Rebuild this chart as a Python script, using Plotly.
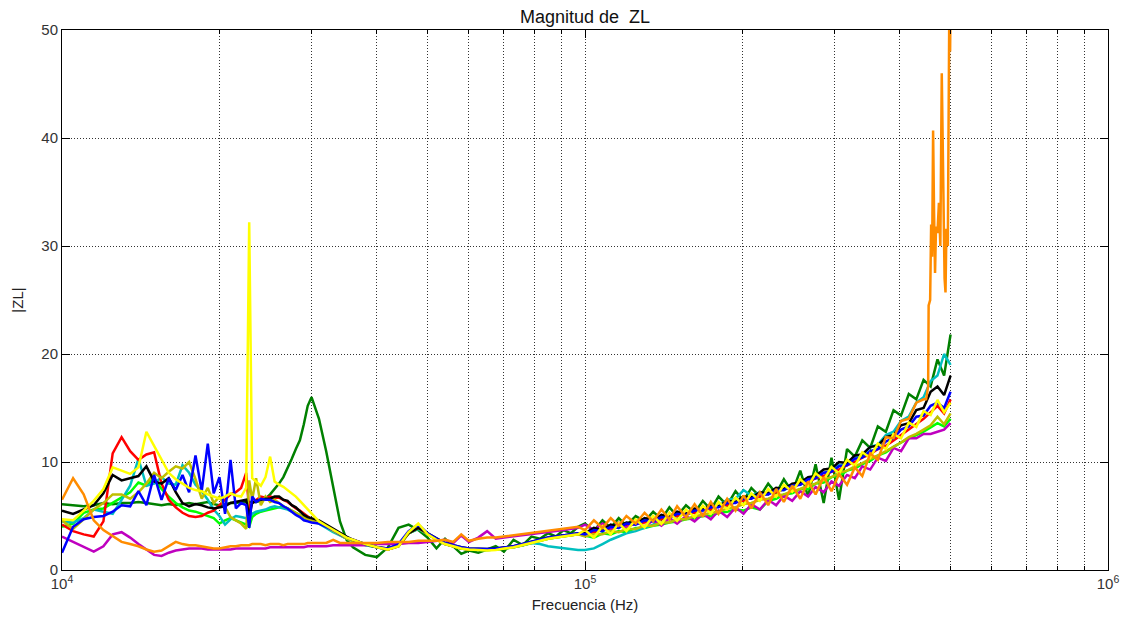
import plotly.graph_objects as go

# ---------------- frequency grids (Hz) ----------------
F_LOW = [10000, 10500, 11000, 11500, 12000, 12500, 13000, 13500, 14000, 14500,
         15000, 15500, 16000, 16500, 17000, 17500, 18000, 18500, 19000, 19500,
         20000, 20500, 21000, 21500, 22000, 22500, 22800, 23100, 23500, 24000,
         24500, 25000, 25500, 26000, 26500, 27000, 27500, 28000, 28500, 29000,
         29500, 30000]
F_MID = [31000, 32000, 33000, 34000, 35000, 36000, 38000, 40000, 42000, 44000,
         46000, 48000, 50000, 52000, 54000, 56000, 58000, 60000, 62500, 65000,
         67500, 70000, 73000, 76000, 79000, 82000, 85000, 88000, 91000, 94000,
         97000]
F_HIGH = [100000, 104000, 108000, 112000, 116000, 120000, 125000, 130000, 135000, 140000,
          145000, 150000, 156000, 162000, 168000, 174000, 180000, 187000, 194000, 201000,
          208000, 216000, 224000, 232000, 240000, 249000, 258000, 267000, 276000, 286000,
          296000, 306000, 317000, 328000, 339000, 351000, 363000, 376000, 389000, 402000,
          416000, 430000, 444000, 458000, 472000, 486000, 500000]
ORANGE_TAIL_F = [449000, 453000, 454000, 457000, 459000, 461000, 463000, 465000, 467000, 469000,
                 472000, 475000, 478000, 481000, 484000, 487000, 489000, 491000, 494000, 497000,
                 499000, 500000]

# ---------------- |ZL| values per series ----------------
red_low = [4.2, 3.6, 3.3, 3.1, 4.5, 10.8, 12.3, 11.0, 10.2, 10.7, 10.9, 8.0, 6.5, 5.8, 5.3, 5.0,
           4.9, 5.0, 5.3, 5.5, 6.0, 6.5, 7.0, 7.2, 7.6, 9.0,
           5.5, 6.2, 6.5, 6.8, 6.7, 6.8, 6.7, 6.7, 6.5, 6.3, 6.0, 5.7, 5.5, 5.2, 4.9, 4.7]
red_mid = [4.5, 4.1, 3.7, 3.3, 3.0, 2.8, 2.4, 2.1, 1.9, 2.2, 3.4, 3.9, 3.3, 2.8, 2.4, 2.2,
           2.0, 1.9, 1.9, 1.9, 1.95, 2.05, 2.15, 2.35, 2.55, 2.75, 2.95, 3.05, 3.15, 3.25, 3.35]
red_high = [3.4, 3.5, 3.7, 3.8, 4.0, 4.0, 4.3, 4.4, 4.6, 4.7, 4.9, 5.0, 5.2, 5.3, 5.6, 5.6,
            5.9, 6.0, 6.3, 6.4, 6.7, 6.8, 7.1, 7.2, 7.5, 7.6, 8.0, 8.1, 8.5, 8.7, 9.1, 9.3,
            9.7, 10.0, 10.4, 10.7, 11.2, 11.5, 12.0, 12.5, 13.0, 13.5, 14.0, 14.6, 15.2, 14.5, 15.8]

yellow_low = [4.7, 4.6, 5.5, 6.4, 7.5, 9.5, 9.2, 8.9, 9.5, 12.8, 11.5, 10.2, 9.0, 8.4, 8.0, 7.6,
              7.4, 7.3, 7.0, 6.8, 6.6, 6.8, 7.1, 6.9, 6.8, 7.6,
              32.2, 8.5, 8.2, 7.8, 8.6, 10.5, 8.2, 7.9, 7.7, 7.4, 7.1, 6.8, 6.4, 6.0, 5.6, 5.3]
yellow_mid = [4.5, 4.1, 3.7, 3.3, 3.0, 2.8, 2.4, 2.1, 1.9, 2.2, 3.5, 4.3, 3.3, 2.8, 2.4, 2.2,
              2.0, 1.9, 1.85, 1.8, 1.85, 2.0, 2.1, 2.3, 2.5, 2.7, 2.9, 3.0, 3.1, 3.2, 3.3]
yellow_high = [3.7, 3.0, 4.05, 3.3, 4.35, 3.6, 4.7, 3.95, 5.0, 4.25, 5.3, 4.55, 5.6, 4.9, 5.95, 5.2,
               6.3, 5.6, 6.7, 6.0, 7.1, 6.4, 7.5, 6.8, 7.9, 7.25, 8.4, 7.75, 8.95, 8.35, 9.55, 8.95,
               10.2, 9.65, 10.9, 10.4, 11.7, 11.2, 12.6, 12.2, 13.65, 13.25, 14.7, 14.35, 15.75, 14.6, 15.5]

black_low = [5.5, 5.2, 5.6, 6.0, 7.1, 8.8, 8.3, 8.5, 8.7, 9.6, 8.2, 8.0, 8.5, 7.2, 6.2, 5.9,
             6.1, 6.0, 5.8, 5.7, 5.8, 5.9, 6.2, 6.3, 6.4, 6.5,
             5.0, 6.2, 6.4, 6.5, 6.6, 6.6, 6.8, 6.8, 6.5, 6.4, 6.0, 5.8, 5.4, 5.1, 4.9, 4.8]
black_mid = [4.6, 4.2, 3.8, 3.4, 3.1, 2.8, 2.4, 2.1, 2.0, 2.3, 3.4, 3.9, 3.4, 2.9, 2.5, 2.3,
             2.1, 2.0, 1.95, 1.95, 2.0, 2.1, 2.2, 2.4, 2.6, 2.8, 3.0, 3.1, 3.2, 3.3, 3.4]
black_high = [3.4, 3.9, 3.7, 4.2, 4.0, 4.4, 4.3, 4.8, 4.6, 5.1, 4.9, 5.4, 5.2, 5.7, 5.6, 6.0,
              5.9, 6.4, 6.3, 6.8, 6.7, 7.2, 7.1, 7.6, 7.5, 8.0, 8.1, 8.6, 8.7, 9.3, 9.4, 10.0,
              9.9, 10.6, 10.7, 11.4, 11.5, 12.3, 12.5, 13.4, 13.6, 14.8, 15.0, 16.5, 17.0, 16.2, 18.0]

blue_low = [1.6, 4.0, 4.7, 4.9, 5.0, 5.4, 6.0, 5.9, 7.3, 6.0, 8.8, 6.5, 8.5, 7.4, 8.8, 7.2,
            10.6, 7.3, 11.7, 7.1, 8.6, 5.2, 10.2, 5.7, 6.2, 6.0,
            3.9, 6.8, 6.3, 6.6, 6.5, 6.5, 6.3, 6.2, 5.9, 5.7, 5.4, 5.1, 4.9, 4.6, 4.5, 4.4]
blue_mid = [4.3, 4.0, 3.7, 3.3, 3.0, 2.8, 2.4, 2.1, 2.0, 2.4, 3.6, 4.2, 3.4, 2.9, 2.5, 2.3,
            2.1, 2.0, 1.95, 1.95, 2.0, 2.1, 2.2, 2.4, 2.6, 2.8, 3.0, 3.1, 3.2, 3.3, 3.4]
blue_high = [3.3, 3.7, 3.6, 4.0, 3.9, 4.3, 4.2, 4.6, 4.5, 4.9, 4.8, 5.2, 5.1, 5.5, 5.5, 5.8,
             5.8, 6.2, 6.2, 6.6, 6.6, 7.0, 7.0, 7.4, 7.4, 7.8, 7.9, 8.4, 8.5, 9.0, 9.1, 9.6,
             9.7, 10.3, 10.4, 11.0, 11.2, 11.9, 12.2, 13.0, 13.3, 14.2, 14.3, 15.2, 15.5, 15.0, 16.5]

cyan_low = [4.5, 4.4, 4.8, 5.6, 5.4, 5.2, 6.5, 7.8, 10.3, 7.8, 8.0, 8.6, 8.0, 7.9, 9.7, 9.0,
            7.9, 7.3, 6.5, 5.6, 5.0, 4.2, 4.7, 5.0, 4.9, 4.8,
            4.9, 5.2, 5.4, 5.5, 5.6, 5.8, 5.9, 5.8, 5.7, 5.6, 5.4, 5.2, 5.0, 4.8, 4.6, 4.5]
cyan_mid = [4.3, 3.9, 3.5, 3.2, 2.9, 2.7, 2.3, 2.1, 1.9, 2.2, 3.4, 3.8, 3.3, 2.8, 2.4, 2.2,
            2.0, 1.9, 1.85, 1.85, 1.9, 2.0, 2.1, 2.3, 2.5, 2.4, 2.2, 2.1, 2.0, 1.9, 1.85]
cyan_high = [1.85, 2.0, 2.4, 2.8, 3.1, 3.4, 3.6, 3.9, 4.2, 4.9, 4.7, 5.3, 5.1, 5.6, 5.5, 6.0,
             5.9, 6.5, 6.6, 7.4, 6.9, 7.2, 7.0, 7.5, 7.4, 7.9, 7.9, 8.4, 8.5, 9.0, 9.2, 9.7,
             9.8, 10.5, 10.6, 11.4, 11.6, 12.5, 12.8, 13.8, 14.2, 15.5, 16.0, 17.5, 18.0, 20.0, 19.0]

lime_low = [4.0, 4.3, 5.3, 5.6, 5.7, 6.2, 6.7, 7.2, 8.1, 7.8, 8.5, 7.5, 6.8, 6.2, 5.8, 5.5,
            5.4, 5.2, 5.0, 4.8, 4.3, 4.6, 4.8, 4.6, 4.4, 4.2,
            4.0, 4.9, 5.2, 5.4, 5.5, 5.6, 5.7, 5.8, 5.9, 5.7, 5.5, 5.3, 5.1, 4.9, 4.7, 4.6]
lime_mid = [4.4, 4.0, 3.6, 3.2, 2.9, 2.7, 2.3, 2.1, 1.9, 2.2, 3.4, 3.8, 3.3, 2.8, 2.4, 2.2,
            2.0, 1.9, 1.85, 1.85, 1.9, 2.0, 2.1, 2.3, 2.5, 2.7, 2.9, 3.0, 3.1, 3.2, 3.3]
lime_high = [3.2, 3.0, 3.4, 3.3, 3.6, 3.5, 3.9, 3.9, 4.1, 4.2, 4.4, 4.5, 4.7, 4.8, 5.0, 5.0,
             5.3, 5.4, 5.6, 5.5, 5.8, 5.6, 6.4, 6.6, 7.0, 7.1, 7.5, 7.5, 8.0, 8.1, 8.6, 8.7,
             9.2, 9.4, 9.8, 10.1, 10.6, 10.9, 11.4, 11.8, 12.2, 12.5, 12.8, 13.2, 13.6, 13.3, 14.0]

olive_low = [4.6, 3.8, 4.7, 5.6, 6.2, 7.0, 7.0, 6.6, 7.2, 8.0, 9.0, 8.5, 9.1, 9.6, 9.4, 10.0,
             8.4, 6.6, 7.6, 6.2, 6.8, 5.9, 4.9, 4.6, 4.3, 3.8,
             8.3, 6.5, 8.5, 6.0, 6.8, 6.3, 6.5, 6.2, 5.9, 5.7, 5.5, 5.3, 5.1, 4.9, 4.7, 4.6]
olive_mid = [4.4, 4.0, 3.6, 3.2, 2.9, 2.7, 2.4, 2.1, 1.9, 2.2, 3.4, 3.9, 3.3, 2.8, 2.4, 2.2,
             2.0, 1.9, 1.85, 1.85, 1.9, 2.0, 2.1, 2.3, 2.5, 2.7, 2.9, 3.0, 3.1, 3.2, 3.3]
olive_high = [3.1, 3.3, 3.3, 3.6, 3.5, 3.8, 3.8, 4.1, 4.1, 4.4, 4.4, 4.7, 4.7, 5.0, 5.1, 5.3,
              5.4, 5.7, 5.8, 6.1, 6.2, 6.5, 6.6, 6.9, 7.0, 7.3, 7.5, 7.8, 8.0, 8.4, 8.6, 9.0,
              9.2, 9.6, 9.9, 10.3, 10.6, 11.0, 11.4, 11.8, 12.3, 12.6, 13.0, 13.4, 14.2, 13.5, 14.5]

dgreen_low = [6.1, 6.0, 5.9, 6.0, 6.2, 6.1, 6.2, 6.2, 6.3, 6.2, 6.1, 6.0, 6.1, 6.0, 6.1, 6.2,
              6.1, 6.2, 6.3, 6.1, 6.0, 6.1, 6.2, 6.2, 6.3, 6.3,
              6.3, 6.3, 6.3, 6.4, 6.6, 7.0, 7.5, 8.0, 8.6, 9.4, 10.3, 11.2, 12.0, 13.5, 15.2, 16.0]
dgreen_mid = [14.0, 11.0, 7.6, 4.5, 2.8, 2.1, 1.4, 1.2, 2.1, 3.9, 4.2, 3.7, 3.0, 2.0, 2.9, 2.2,
              1.5, 1.8, 1.6, 1.9, 2.2, 1.7, 2.8, 2.3, 3.1, 2.9, 3.4, 3.1, 3.7, 3.4, 4.0]
dgreen_high = [4.3, 3.6, 4.6, 3.9, 4.8, 4.1, 5.0, 4.5, 5.4, 4.7, 5.8, 5.0, 6.0, 5.3, 6.4, 5.6,
               6.8, 6.0, 7.3, 6.4, 7.6, 6.8, 8.0, 7.1, 8.4, 7.2, 9.2, 6.8, 9.8, 6.2, 10.4, 6.5,
               11.2, 10.5, 12.0, 11.3, 13.3, 12.8, 14.8, 14.3, 16.3, 15.8, 17.6, 17.0, 19.5, 18.0, 21.8]

magenta_low = [3.1, 2.6, 2.1, 1.7, 2.2, 3.3, 3.5, 3.0, 2.4, 1.9, 1.4, 1.3, 1.6, 1.8, 1.9, 2.0,
               2.0, 2.0, 1.9, 1.9, 1.9, 1.9, 1.9, 2.0, 2.0, 2.0,
               2.0, 2.0, 2.0, 2.0, 2.0, 2.1, 2.1, 2.1, 2.1, 2.1, 2.1, 2.1, 2.1, 2.1, 2.2, 2.2]
magenta_mid = [2.2, 2.2, 2.3, 2.3, 2.3, 2.3, 2.3, 2.4, 2.4, 2.4, 2.5, 2.5, 2.6, 2.7, 2.8, 2.5,
               3.2, 2.6, 3.0, 3.6, 2.9, 3.0, 3.1, 3.2, 3.3, 3.4, 3.5, 3.6, 3.7, 3.8, 3.9]
magenta_high = [4.2, 3.7, 4.3, 3.8, 4.4, 3.9, 4.5, 4.0, 4.6, 4.1, 4.8, 4.3, 5.0, 4.5, 5.2, 4.7,
                5.5, 4.9, 5.8, 5.2, 6.1, 5.6, 6.5, 6.0, 6.9, 6.4, 7.3, 6.8, 7.7, 7.2, 8.2, 7.8,
                8.8, 8.5, 9.6, 9.3, 10.4, 10.1, 11.3, 11.0, 12.2, 12.2, 12.6, 12.6, 12.8, 13.0, 13.6]

orange_low = [6.5, 8.5, 7.0, 4.6, 3.7, 3.1, 2.6, 2.4, 2.2, 1.9, 1.7, 1.8, 2.2, 2.6, 2.4, 2.3,
              2.3, 2.2, 2.1, 2.0, 2.0, 2.1, 2.2, 2.2, 2.3, 2.3,
              2.3, 2.4, 2.4, 2.4, 2.3, 2.4, 2.4, 2.4, 2.3, 2.4, 2.4, 2.4, 2.4, 2.4, 2.5, 2.5]
orange_mid = [2.5, 2.5, 2.8, 2.5, 2.5, 2.5, 2.5, 2.5, 2.6, 2.6, 2.6, 2.7, 2.7, 2.7, 2.8, 2.6,
              3.3, 2.7, 2.9, 3.0, 3.0, 3.1, 3.2, 3.3, 3.4, 3.5, 3.6, 3.7, 3.8, 3.9, 4.0]
orange_high = [3.7, 4.6, 3.9, 4.8, 4.1, 5.0, 4.3, 5.3, 4.5, 5.6, 4.7, 5.9, 4.9, 6.1, 5.0, 6.3,
               5.2, 6.6, 5.5, 6.9, 5.7, 7.2, 6.0, 7.5, 6.3, 7.8, 6.6, 8.2, 7.0, 8.6, 7.3, 8.9,
               7.9, 9.5, 8.7, 10.8, 10.2, 12.3, 12.2, 13.8, 14.0, 15.5, 15.8]
orange_tail = [15.8, 17.0, 24.5, 25.0, 32.0, 29.0, 40.7, 33.0, 27.5, 31.8, 31.2, 34.0, 30.0, 46.0,
               34.0, 27.0, 25.7, 31.6, 30.0, 50.5, 48.0, 53.0]

# ---------------- assemble ----------------
F = F_LOW + F_MID + F_HIGH
series = [
    ("dkgreen", "#008000", dgreen_low + dgreen_mid + dgreen_high, F),
    ("lime", "#00ff00", lime_low + lime_mid + lime_high, F),
    ("cyan", "#00bfbf", cyan_low + cyan_mid + cyan_high, F),
    ("red", "#ff0000", red_low + red_mid + red_high, F),
    ("magenta", "#bf00bf", magenta_low + magenta_mid + magenta_high, F),
    ("olive", "#bfbf00", olive_low + olive_mid + olive_high, F),
    ("black", "#000000", black_low + black_mid + black_high, F),
    ("blue", "#0000ff", blue_low + blue_mid + blue_high, F),
    ("yellow", "#ffff00", yellow_low + yellow_mid + yellow_high, F),
    ("orange", "#ff8c00", orange_low + orange_mid + orange_high + orange_tail,
     F_LOW + F_MID + F_HIGH[:len(orange_high)] + ORANGE_TAIL_F),
]

fig = go.Figure()
for name, color, vals, freqs in series:
    assert len(vals) == len(freqs), (name, len(vals), len(freqs))
    fig.add_trace(go.Scatter(x=freqs, y=vals, mode="lines", name=name,
                             line=dict(color=color, width=2.5), hoverinfo="skip"))

grid_col = "rgba(0,0,0,0.8)"
grid_dash = "1px,2px"
minor_vals = [k * 10 ** e for e in (4, 5) for k in range(2, 10)]
font_main = "Liberation Sans, Arial, sans-serif"

# the page body adds an 8px offset, so the figure is 8px smaller than the window
W, H = 1121, 609
fig.update_layout(
    width=W, height=H,
    paper_bgcolor="white", plot_bgcolor="white",
    margin=dict(l=54, r=21, t=22, b=47, autoexpand=False),
    showlegend=False,
    font=dict(family=font_main, size=15, color="#222"),
    title=dict(text="Magnitud de \u00a0ZL", x=0.5, xref="paper", xanchor="center",
               y=1 - 9 / H, yref="container", yanchor="middle",
               font=dict(family=font_main, size=18, color="#111")),
    xaxis=dict(type="log", range=[4, 6],
               tickvals=[1e4, 1e5, 1e6],
               ticktext=["10<sup>4</sup>", "10<sup>5</sup>", "10<sup>6</sup>"],
               ticks="inside", ticklen=8, tickcolor="black", tickwidth=1,
               showline=True, linecolor="black", linewidth=1, mirror="allticks",
               showgrid=True, gridcolor=grid_col, griddash=grid_dash, gridwidth=1,
               minor=dict(tickvals=minor_vals, ticks="inside", ticklen=4, tickcolor="black",
                          showgrid=True, gridcolor=grid_col, griddash=grid_dash, gridwidth=1),
               title=dict(text="Frecuencia (Hz)", standoff=8,
                          font=dict(family=font_main, size=15, color="#222")),
               tickfont=dict(family=font_main, size=15, color="#333"),
               zeroline=False),
    yaxis=dict(range=[0, 50], tickvals=[0, 10, 20, 30, 40, 50],
               ticks="inside", ticklen=8, tickcolor="black", tickwidth=1,
               showline=True, linecolor="black", linewidth=1, mirror="allticks",
               showgrid=True, gridcolor=grid_col, griddash=grid_dash, gridwidth=1,
               title=dict(text="|ZL|", standoff=14,
                          font=dict(family=font_main, size=15, color="#222")),
               tickfont=dict(family=font_main, size=15, color="#333"),
               zeroline=False),
)

fig.write_html("out.html")
